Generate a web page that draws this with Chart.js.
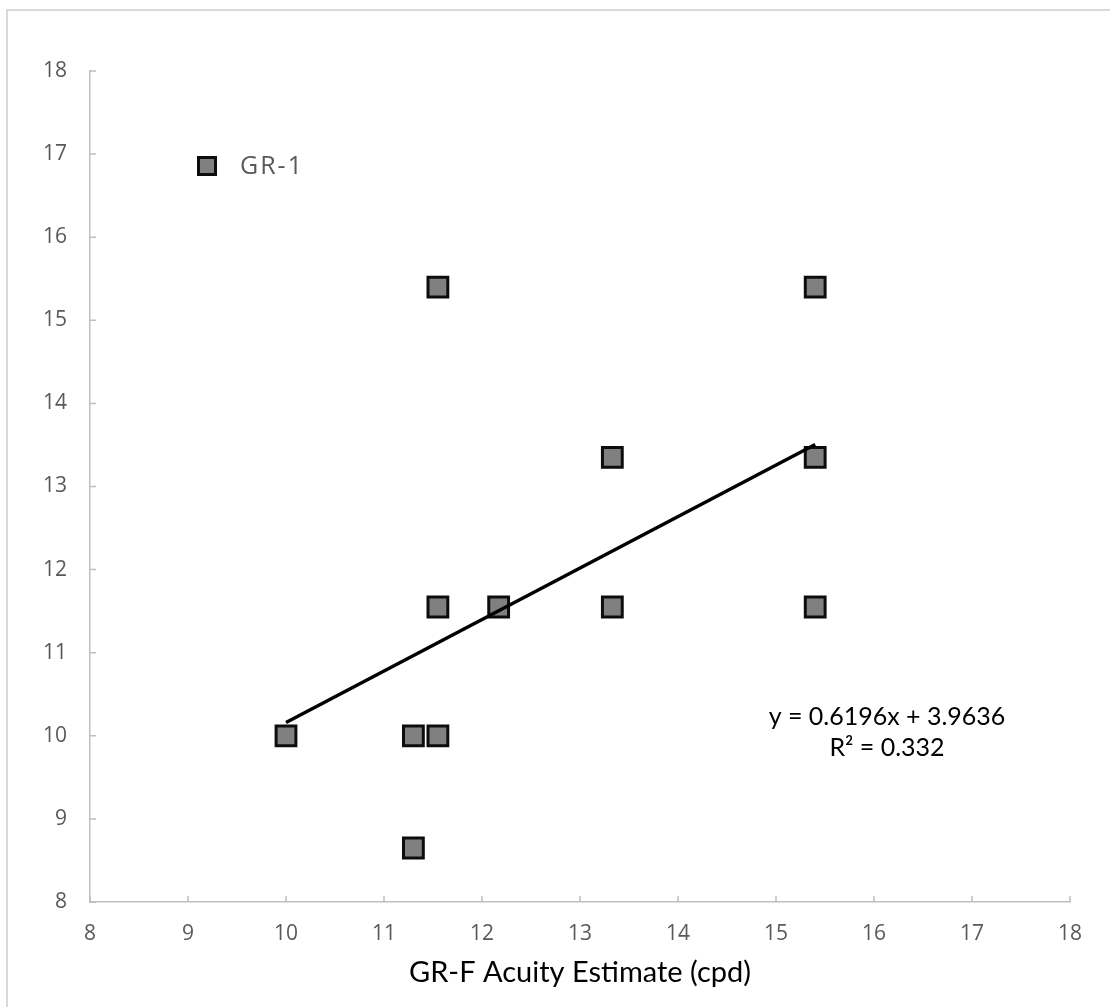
<!DOCTYPE html>
<html>
<head>
<meta charset="utf-8">
<title>GR-1 vs GR-F acuity</title>
<script src="https://cdn.jsdelivr.net/npm/chart.js@4/dist/chart.umd.min.js"></script>
<style>
  html, body { margin: 0; padding: 0; background: #fff; overflow: hidden; }
  #wrap { position: relative; width: 1110px; height: 1007px; }
  #frame { position: absolute; left: 6px; top: 9px; width: 1200px; height: 1200px;
           border: 2px solid #d9d9d9; pointer-events: none; }
</style>
</head>
<body>
<div id="wrap">
  <canvas id="chart" width="1110" height="1007"></canvas>
  <div id="frame"></div>
</div>
<script>
// values
const grfAcuity = [10.0, 11.3, 11.55, 11.3, 11.55, 12.17, 13.33, 15.4, 11.55, 15.4, 13.33, 15.4];
const gr1Acuity = [10.0, 10.0, 10.0, 8.65, 11.55, 11.55, 11.55, 11.55, 15.4, 15.4, 13.35, 13.35];
const seriesLabel = 'GR-1';
const xTitle = 'GR-F Acuity Estimate (cpd)';

// trendline as printed on the chart
const trendSlope = 0.6196;
const trendIntercept = 3.9636;
const trendR2 = 0.332;
const equationLines = ['y = ' + trendSlope + 'x + ' + trendIntercept, 'R\u00b2 = ' + trendR2];

const axisMin = 8;
const axisMax = 18;

const points = grfAcuity.map((x, i) => ({ x: x, y: gr1Acuity[i] }));
const xLo = Math.min(...grfAcuity);
const xHi = Math.max(...grfAcuity);
const trendPoints = [xLo, xHi].map(x => ({ x: x, y: trendSlope * x + trendIntercept }));

const tickFont = { family: 'Open Sans', size: 21 };
const grey = '#595959';

// inward tick marks, legend inside plot, trendline equation
const extras = {
    id: 'extras',
    afterDraw(chart) {
        const ctx = chart.ctx;
        const xs = chart.scales.x;
        const ys = chart.scales.y;
        const area = chart.chartArea;
        ctx.save();
        ctx.strokeStyle = '#bfbfbf';
        ctx.lineWidth = 1.5;
        ctx.beginPath();
        xs.ticks.forEach(t => {
            const px = xs.getPixelForValue(t.value);
            ctx.moveTo(px, area.bottom);
            ctx.lineTo(px, area.bottom - 6);
        });
        ys.ticks.forEach(t => {
            const py = ys.getPixelForValue(t.value);
            ctx.moveTo(area.left, py);
            ctx.lineTo(area.left + 6, py);
        });
        ctx.stroke();

        // legend
        const ds = chart.data.datasets[1];
        const lx = 207, ly = 166, half = 8.5;
        ctx.fillStyle = ds.backgroundColor;
        ctx.strokeStyle = ds.borderColor;
        ctx.lineWidth = 3;
        ctx.fillRect(lx - half, ly - half, half * 2, half * 2);
        ctx.strokeRect(lx - half, ly - half, half * 2, half * 2);
        ctx.fillStyle = grey;
        ctx.font = '25px "Open Sans"';
        ctx.letterSpacing = '2px';
        ctx.textAlign = 'left';
        ctx.textBaseline = 'middle';
        ctx.fillText(ds.label, 240, ly + 1);
        ctx.letterSpacing = '0px';

        // equation
        ctx.fillStyle = '#000';
        ctx.font = '25px Lato';
        ctx.textAlign = 'center';
        ctx.fillText(equationLines[0], 887, 717);
        ctx.fillText(equationLines[1], 887, 748);
        ctx.restore();
    }
};

new Chart(document.getElementById('chart'), {
    type: 'scatter',
    data: {
        datasets: [
            {
                type: 'line',
                label: 'Linear (GR-1)',
                data: trendPoints,
                borderColor: '#000',
                borderWidth: 3.5,
                pointRadius: 0,
                fill: false,
                order: 0
            },
            {
                label: seriesLabel,
                data: points,
                pointStyle: 'rect',
                pointRadius: 14,
                pointHoverRadius: 14,
                backgroundColor: '#808080',
                borderColor: '#0d0d0d',
                borderWidth: 3,
                order: 1
            }
        ]
    },
    options: {
        responsive: false,
        animation: false,
        layout: { padding: { left: 0, top: 71, right: 40, bottom: 0 } },
        plugins: {
            legend: { display: false },
            tooltip: { enabled: false }
        },
        scales: {
            x: {
                type: 'linear',
                min: axisMin,
                max: axisMax,
                afterFit: s => { s.height = 105; },
                ticks: { stepSize: 1, color: grey, font: tickFont, padding: 19 },
                grid: { drawOnChartArea: false, drawTicks: false },
                border: { color: '#bfbfbf', width: 1.5 },
                title: {
                    display: true,
                    text: xTitle,
                    color: '#000',
                    font: { family: 'Lato', size: 29 },
                    padding: { top: 0, bottom: 17 }
                }
            },
            y: {
                type: 'linear',
                min: axisMin,
                max: axisMax,
                afterFit: s => { s.width = 90; },
                ticks: { stepSize: 1, color: grey, font: tickFont, padding: 23 },
                grid: { drawOnChartArea: false, drawTicks: false },
                border: { color: '#bfbfbf', width: 1.5 }
            }
        }
    },
    plugins: [extras]
});
</script>
</body>
</html>
